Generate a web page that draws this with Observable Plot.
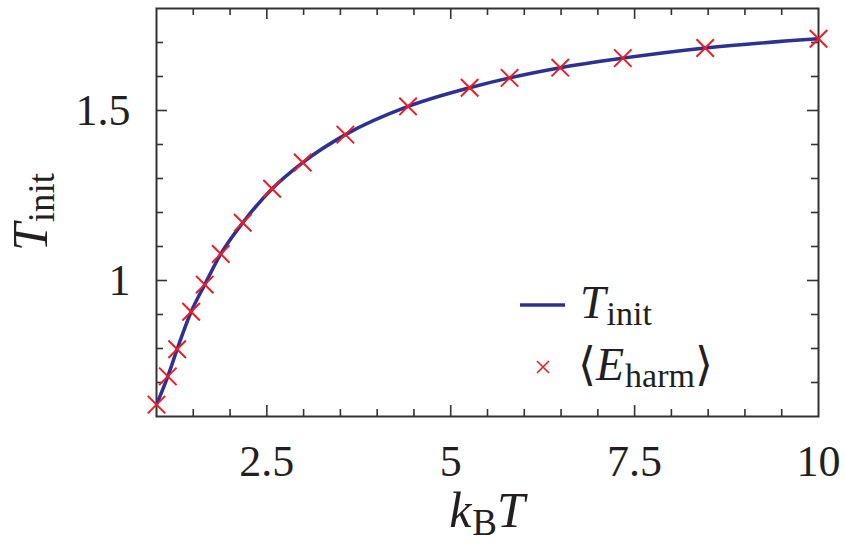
<!DOCTYPE html>
<html>
<head>
<meta charset="utf-8">
<script src="https://cdn.jsdelivr.net/npm/d3@7"></script>
<script src="https://cdn.jsdelivr.net/npm/@observablehq/plot@0.6"></script>
<style>
  html, body { margin: 0; padding: 0; background: #fff; }
  #chart { width: 845px; height: 547px; }
</style>
</head>
<body>
<div id="chart"></div>
<script>
// Thermal energy k_B T (x) for each simulation run
const kBT = [1.0, 1.154, 1.281, 1.471, 1.656, 1.874, 2.173, 2.572, 2.988, 3.568, 4.42, 5.257, 5.80, 6.489, 7.34, 8.46, 10.0];
// Initial temperature T_init (solid curve)
const tInit = [0.635, 0.718, 0.798, 0.908, 0.988, 1.078, 1.170, 1.270, 1.347, 1.429, 1.512, 1.567, 1.596, 1.626, 1.654, 1.684, 1.711];
// Mean harmonic energy <E_harm> (crosses)
const eHarm = [0.635, 0.718, 0.798, 0.908, 0.988, 1.078, 1.170, 1.270, 1.347, 1.429, 1.512, 1.567, 1.596, 1.626, 1.654, 1.684, 1.711];

// Axis ticks
const xTickLabels = [2.5, 5, 7.5, 10];
const yTickLabels = [1, 1.5];
const xMinorStep = 0.5;
const yMinorStep = 0.1;

const W = 845, H = 547;
const mL = 156, mR = 27, mT = 8, mB = 131;
const frameW = W - mL - mR, frameH = H - mT - mB;
const minorLen = 7, majorLen = 11;
const FONT = "'Liberation Serif', 'DejaVu Serif', serif";
const INK = "#231f20";
const LINE = "#2e3192";
const CROSS = "#ee1c25";

const curveData = kBT.map((x, i) => ({x, y: tInit[i]}));
const crossData = kBT.map((x, i) => ({x, y: eHarm[i]}));

const xMinor = d3.range(1 + xMinorStep, 10, xMinorStep).filter(v => !xTickLabels.some(t => Math.abs(t - v) < 1e-9));
const yMinor = d3.range(0.6 + yMinorStep, 1.8 - 1e-9, yMinorStep).map(v => +v.toFixed(2)).filter(v => !yTickLabels.some(t => Math.abs(t - v) < 1e-9));
const xMajor = xTickLabels.filter(v => v < 10);

const tickStyle = {stroke: "#333", strokeWidth: 1.6};

const svg = Plot.plot({
  width: W,
  height: H,
  marginLeft: mL,
  marginRight: mR,
  marginTop: mT,
  marginBottom: mB,
  style: {fontFamily: FONT, fontSize: "44px", color: INK, background: "#fff"},
  x: {domain: [1, 10], label: null},
  y: {domain: [0.6, 1.8], label: null},
  marks: [
    // inward ticks on all four sides
    Plot.tickX(xMinor, {x: d => d, insetTop: frameH - minorLen, ...tickStyle}),
    Plot.tickX(xMajor, {x: d => d, insetTop: frameH - majorLen, ...tickStyle}),
    Plot.tickX(xMinor, {x: d => d, insetBottom: frameH - minorLen, ...tickStyle}),
    Plot.tickX(xMajor, {x: d => d, insetBottom: frameH - majorLen, ...tickStyle}),
    Plot.tickY(yMinor, {y: d => d, insetRight: frameW - minorLen, ...tickStyle}),
    Plot.tickY(yTickLabels, {y: d => d, insetRight: frameW - majorLen, ...tickStyle}),
    Plot.tickY(yMinor, {y: d => d, insetLeft: frameW - minorLen, ...tickStyle}),
    Plot.tickY(yTickLabels, {y: d => d, insetLeft: frameW - majorLen, ...tickStyle}),
    Plot.frame({stroke: "#333", strokeWidth: 2}),
    Plot.axisX(xTickLabels, {anchor: "bottom", tickSize: 0, tickPadding: 28, fontSize: 44, fill: INK, tickFormat: d => String(d)}),
    Plot.axisY(yTickLabels, {anchor: "left", tickSize: 0, tickPadding: 26, fontSize: 44, fill: INK, tickFormat: d => String(d)}),
    Plot.line(curveData, {x: "x", y: "y", stroke: LINE, strokeWidth: 3.5, curve: "monotone-x"}),
    Plot.dot(crossData, {x: "x", y: "y", symbol: "times", r: 8, stroke: CROSS, strokeWidth: 2})
  ]
});

// Axis titles and legend with sub-scripted math text
const g = d3.select(svg).append("g")
  .attr("font-family", FONT)
  .attr("fill", INK);

function mathLabel(sel, base, sub, tail, size, shift) {
  const t = sel.attr("font-size", size);
  t.append("tspan").attr("font-style", "italic").text(base);
  t.append("tspan").attr("font-size", size * 0.74).attr("dx", 1).attr("dy", shift).text(sub);
  if (tail) t.append("tspan").attr("dy", -shift).attr("font-style", "italic").text(tail);
  return t;
}

// x-axis title: k_B T
const xt = g.append("text").attr("x", mL + frameW / 2).attr("y", 527).attr("text-anchor", "middle");
mathLabel(xt, "k", "B", "T", 50, 8);

// y-axis title: T_init
const yt = g.append("text").attr("transform", `translate(47,212) rotate(-90)`).attr("text-anchor", "middle");
mathLabel(yt, "T", "init", null, 50, 7);

// legend
const lg = g.append("g").attr("text-anchor", "start");
lg.append("line").attr("x1", 520).attr("x2", 565).attr("y1", 305).attr("y2", 305)
  .attr("stroke", LINE).attr("stroke-width", 3.5);
const l1 = lg.append("text").attr("x", 580).attr("y", 318).attr("text-anchor", "start");
mathLabel(l1, "T", "init", null, 46, 7);

const mx = 543, my = 367, ms = 6;
lg.append("path").attr("d", `M${mx - ms},${my - ms}L${mx + ms},${my + ms}M${mx - ms},${my + ms}L${mx + ms},${my - ms}`)
  .attr("stroke", CROSS).attr("stroke-width", 1.6).attr("fill", "none");
const l2 = lg.append("text").attr("x", 578).attr("y", 380).attr("font-size", 46).attr("text-anchor", "start");
l2.append("tspan").text("\u27E8");
l2.append("tspan").attr("font-style", "italic").text("E");
l2.append("tspan").attr("font-size", 34).attr("dx", 1).attr("dy", 7).text("harm");
l2.append("tspan").attr("dy", -7).text("\u27E9");

document.getElementById("chart").appendChild(svg);
</script>
</body>
</html>
